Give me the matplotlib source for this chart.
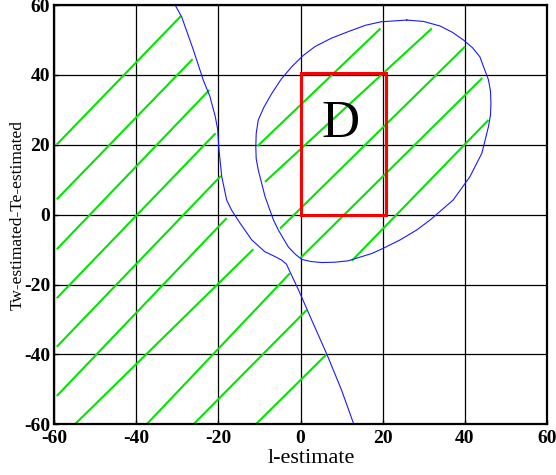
import matplotlib
matplotlib.use("Agg")
import matplotlib.pyplot as plt
from matplotlib.patches import Rectangle

plt.rcParams["font.family"] = ["Liberation Serif", "DejaVu Serif"]
plt.rcParams["axes.unicode_minus"] = False

# axis ticks
ticks = [-60, -40, -20, 0, 20, 40, 60]
tick_labels = ["-60", "-40", "-20", "0", "20", "40", "60"]

# boundary curve on the left (l, Tw-Te)
left_x = [-30.8, -28.96, -26.1, -23.7, -22.1, -20.8, -20.2, -19.9, -19.2, -18.0, -16.8,
          -14.7, -11.9, -8.7, -6.2, -4.6, -3.4, -2.6, -0.5, 2.7, 6.4, 10.0, 12.9]
left_y = [60.5, 56.6, 47.1, 38.5, 33.9, 28.2, 24.5, 19.0, 10.9, 4.2, 1.3,
          -2.5, -7.2, -10.6, -12.0, -13.0, -14.2, -16.3, -21.5, -30.1, -39.9, -50.2, -59.7]

# closed boundary curve around the feasible region
loop_x = [25.9, 19.6, 15.8, 11.65, 7.5, 3.5, 0.6, -2.1, -4.7, -7.0, -8.9,
          -10.3, -10.8, -10.9, -10.8, -10.3, -8.65, -6.6, -5.4, -3.0, -1.3,
          0.3, 2.5, 5.2, 8.4, 11.6, 17.4, 20.2, 24.3, 28.3, 31.6,
          37.2, 41.3, 44.2, 45.8, 46.3, 46.4, 46.3, 45.8, 43.7, 41.9,
          39.7, 37.0, 34.0, 30.0, 25.9]
loop_y = [55.7, 55.2, 54.2, 52.4, 50.5, 48.1, 45.5, 42.4, 38.8, 34.7, 30.8,
          27.1, 23.2, 19.5, 16.0, 12.8, 5.2, -1.5, -4.4, -9.2, -11.3,
          -12.8, -13.4, -13.7, -13.6, -13.2, -11.1, -9.6, -7.2, -4.4, -1.5,
          4.2, 10.9, 17.6, 25.2, 28.5, 31.9, 35.3, 38.6, 45.2, 47.8,
          50.0, 52.2, 54.0, 55.3, 55.7]

# hatching segments: start and end points
hatch_x0 = [-59.4, -59.4, -59.4, -59.4, -59.4, -59.4, -55.0, -37.5, -26.1, -10.9,
            -10.5, -8.65, -5.0, -0.1, 12.5]
hatch_y0 = [20.1, 4.4, -9.9, -23.9, -37.8, -51.9, -60.0, -60.0, -60.0, -60.0,
            19.6, 9.4, -4.0, -12.5, -13.2]
hatch_x1 = [-29.1, -26.3, -22.2, -20.7, -19.4, -18.0, -11.5, -2.6, 1.5, 6.4,
            19.5, 32.0, 40.1, 44.3, 45.8]
hatch_y1 = [56.9, 44.5, 35.7, 23.3, 11.1, -1.0, -9.9, -16.8, -27.3, -39.9,
            53.3, 53.3, 48.1, 39.1, 27.1]

# region D
d_l0, d_l1 = 0.0, 20.8
d_t0, d_t1 = 0.0, 40.5

fig = plt.figure(figsize=(5.56, 4.75), dpi=100)
ax = fig.add_axes([0.0977, 0.1067, 0.8856, 0.8827])

for x0, y0, x1, y1 in zip(hatch_x0, hatch_y0, hatch_x1, hatch_y1):
    ax.plot([x0, x1], [y0, y1], color="#00e600", lw=1.5, solid_capstyle="butt", zorder=3)

ax.plot(left_x, left_y, color="#1a1aff", lw=0.8, solid_joinstyle="round", zorder=4)
ax.plot(loop_x, loop_y, color="#1a1aff", lw=0.8, solid_joinstyle="round", zorder=4)

ax.add_patch(Rectangle((d_l0, d_t0), d_l1 - d_l0, d_t1 - d_t0,
                       facecolor="none", edgecolor="#ff0000", lw=2.2, zorder=5))
ax.text(9.8, 26.0, "D", fontsize=38, ha="center", va="center", zorder=6)

ax.set_xlim(-60, 60)
ax.set_ylim(-60, 60)
ax.set_xticks(ticks)
ax.set_yticks(ticks)
ax.set_xticklabels(tick_labels, fontweight="bold", fontsize=14)
ax.set_yticklabels(tick_labels, fontweight="bold", fontsize=14)
ax.tick_params(axis="both", direction="in", length=3, width=1, color="black")
ax.tick_params(axis="x", pad=4.0)
ax.tick_params(axis="y", pad=3.0)
ax.grid(True, color="black", lw=0.9)
ax.set_axisbelow(True)
for s in ax.spines.values():
    s.set_linewidth(1.6)
    s.set_zorder(7)

ax.set_xlabel("l-estimate", fontsize=16)
ax.xaxis.set_label_coords(0.521, -0.058)
ax.set_ylabel("Tw-estimated-Te-estimated", fontsize=12.5)
ax.yaxis.set_label_coords(-0.058, 0.5)

fig.savefig("out.png", dpi=100)
